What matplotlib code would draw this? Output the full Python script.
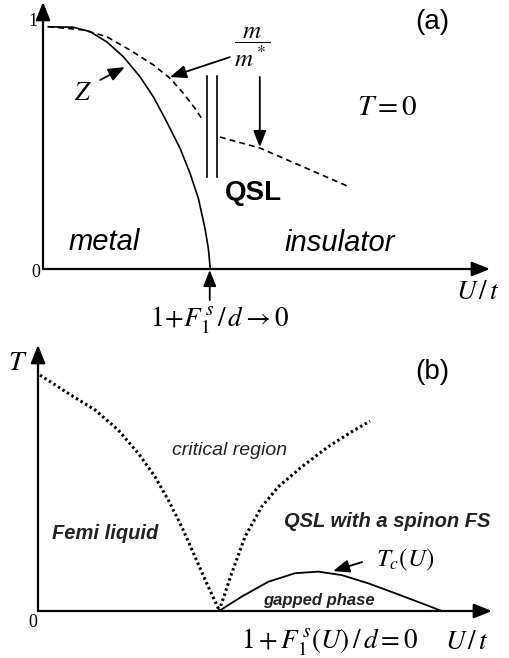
import numpy as np
import matplotlib
matplotlib.use("Agg")
import matplotlib.pyplot as plt

plt.rcParams["font.family"] = ["Liberation Sans", "DejaVu Sans"]
plt.rcParams["mathtext.fontset"] = "stix"

# ---- panel (a): T = 0, quasiparticle weight Z and mass ratio m/m* vs U/t ----
z_u = [0.119, 0.678, 1.051, 1.425, 1.796, 2.170, 2.468, 2.767, 3.065, 3.289,
       3.475, 3.624, 3.698, 3.743]
z_val = [0.997, 0.995, 0.977, 0.935, 0.874, 0.791, 0.709, 0.606, 0.497, 0.394,
         0.291, 0.167, 0.085, 0.0]

mass_u = [0.119, 0.902, 1.425, 1.946, 2.468, 2.841, 3.139, 3.400, 3.586]
mass_val = [0.997, 0.984, 0.956, 0.901, 0.840, 0.785, 0.723, 0.661, 0.609]
mass_ins_u = [3.96, 4.85, 6.80]
mass_ins_val = [0.543, 0.498, 0.342]

wall_u = [3.67, 3.89]
wall_range = [0.379, 0.794]

# ---- panel (b): phase diagram T vs U/t ----
fl_u = [0.044, 0.667, 1.256, 1.769, 2.209, 2.577, 2.870, 3.165, 3.458, 3.716, 3.971, 3.987]
fl_t = [0.887, 0.818, 0.756, 0.680, 0.593, 0.505, 0.417, 0.317, 0.204, 0.104, 0.010, 0.0]

qsl_u = [3.987, 4.267, 4.559, 4.927, 5.293, 5.808, 6.394, 6.910, 7.313]
qsl_t = [0.0, 0.142, 0.279, 0.392, 0.467, 0.542, 0.618, 0.674, 0.714]

tc_u = [3.987, 4.487, 5.073, 5.661, 6.174, 6.689, 7.275, 7.863, 8.452, 8.892]
tc_t = [0.0, 0.054, 0.110, 0.142, 0.148, 0.135, 0.104, 0.067, 0.029, 0.0]

fig = plt.figure(figsize=(5.10, 6.58), dpi=100)
ax_a = fig.add_axes([0, 328 / 658, 1, 330 / 658])
ax_b = fig.add_axes([0, 0, 1, 328 / 658])
for ax in (ax_a, ax_b):
    ax.set_axis_off()

ax_a.set_xlim(-0.962, 10.447)
ax_a.set_ylim(-0.251, 1.107)
ax_b.set_xlim(-0.837, 10.396)
ax_b.set_ylim(-0.1767, 1.0564)

axis_arrow = dict(arrowstyle="-|>,head_length=0.55,head_width=0.22", lw=1.6,
                  color="black", mutation_scale=20, shrinkA=0, shrinkB=0)
small_arrow = dict(arrowstyle="-|>,head_length=0.55,head_width=0.22", lw=1.3,
                   color="black", mutation_scale=18, shrinkA=0, shrinkB=0)
dash = (0, (3.5, 2.5))
dots = (0, (0.8, 0.95))

# panel (a)
ax_a.annotate("", xy=(0, 1.099), xytext=(0, 0), arrowprops=axis_arrow)
ax_a.annotate("", xy=(10.0, 0), xytext=(0, 0), arrowprops=axis_arrow)
ax_a.plot(z_u, z_val, color="black", lw=1.2)
ax_a.plot(mass_u, mass_val, color="black", lw=1.2, ls=dash)
ax_a.plot(mass_ins_u, mass_ins_val, color="black", lw=1.2, ls=dash)
for u in wall_u:
    ax_a.plot([u, u], wall_range, color="black", lw=1.2)

ax_a.annotate("", xy=(1.83, 0.831), xytext=(1.28, 0.778), arrowprops=small_arrow)
ax_a.annotate("", xy=(2.84, 0.790), xytext=(4.18, 0.872), arrowprops=small_arrow)
ax_a.annotate("", xy=(4.85, 0.502), xytext=(4.85, 0.790), arrowprops=small_arrow)
ax_a.annotate("", xy=(3.73, -0.004), xytext=(3.73, -0.128), arrowprops=small_arrow)

ax_a.text(-0.224, 1.020, "1", fontsize=13, family="Liberation Serif", ha="center", va="center")
ax_a.text(-0.157, -0.016, "0", fontsize=13, family="Liberation Serif", ha="center", va="center")
ax_a.text(0.89, 0.724, r"$Z$", fontsize=19, ha="center", va="center")
ax_a.text(4.68, 0.914, r"$\dfrac{m}{m^*}$", fontsize=18, ha="center", va="center")
ax_a.text(7.70, 0.667, r"$T = 0$", fontsize=21, ha="center", va="center")
ax_a.text(8.70, 1.016, "(a)", fontsize=20, ha="center", va="center")
ax_a.text(4.70, 0.313, "QSL", fontsize=20, fontweight="bold", ha="center", va="center")
ax_a.text(1.38, 0.111, "metal", fontsize=21, style="italic", ha="center", va="center")
ax_a.text(6.65, 0.107, "insulator", fontsize=21, style="italic", ha="center", va="center")
ax_a.text(9.72, -0.095, r"$U\,/\,t$", fontsize=19.5, ha="center", va="center")
ax_a.text(3.95, -0.210, r"$1\!+\!F_1^{\,s}\,/\,d \rightarrow 0$", fontsize=19.5,
          ha="center", va="center")

# panel (b)
ax_b.annotate("", xy=(0, 1.0), xytext=(0, 0), arrowprops=axis_arrow)
ax_b.annotate("", xy=(10.0, 0), xytext=(0, 0), arrowprops=axis_arrow)
ax_b.plot(fl_u, fl_t, color="black", lw=2.2, ls=dots)
ax_b.plot(qsl_u, qsl_t, color="black", lw=2.2, ls=dots)
ax_b.plot(tc_u, tc_t, color="black", lw=1.3)
ax_b.annotate("", xy=(6.50, 0.150), xytext=(7.14, 0.184), arrowprops=small_arrow)

ax_b.text(-0.44, 0.932, r"$T$", fontsize=20, ha="center", va="center")
ax_b.text(-0.11, -0.045, "0", fontsize=13, family="Liberation Serif", ha="center", va="center")
ax_b.text(8.68, 0.898, "(b)", fontsize=20, ha="center", va="center")
ax_b.text(4.21, 0.605, "critical region", fontsize=14, style="italic", color="#222222",
          ha="center", va="center")
ax_b.text(1.48, 0.293, "Femi liquid", fontsize=14.5, style="italic", fontweight="bold",
          color="#222222", ha="center", va="center")
ax_b.text(7.70, 0.335, "QSL with a spinon FS", fontsize=14.5, style="italic",
          fontweight="bold", color="#222222", ha="center", va="center")
ax_b.text(6.19, 0.041, "gapped phase", fontsize=12, style="italic", fontweight="bold",
          color="#222222", ha="center", va="center")
ax_b.text(8.08, 0.192, r"$T_c(U)$", fontsize=18, ha="center", va="center")
ax_b.text(6.43, -0.117, r"$1+F_1^{\,s}(U)\,/\,d=0$", fontsize=19.5, ha="center", va="center")
ax_b.text(9.45, -0.117, r"$U\,/\,t$", fontsize=19.5, ha="center", va="center")

fig.savefig("out.png", dpi=100)
